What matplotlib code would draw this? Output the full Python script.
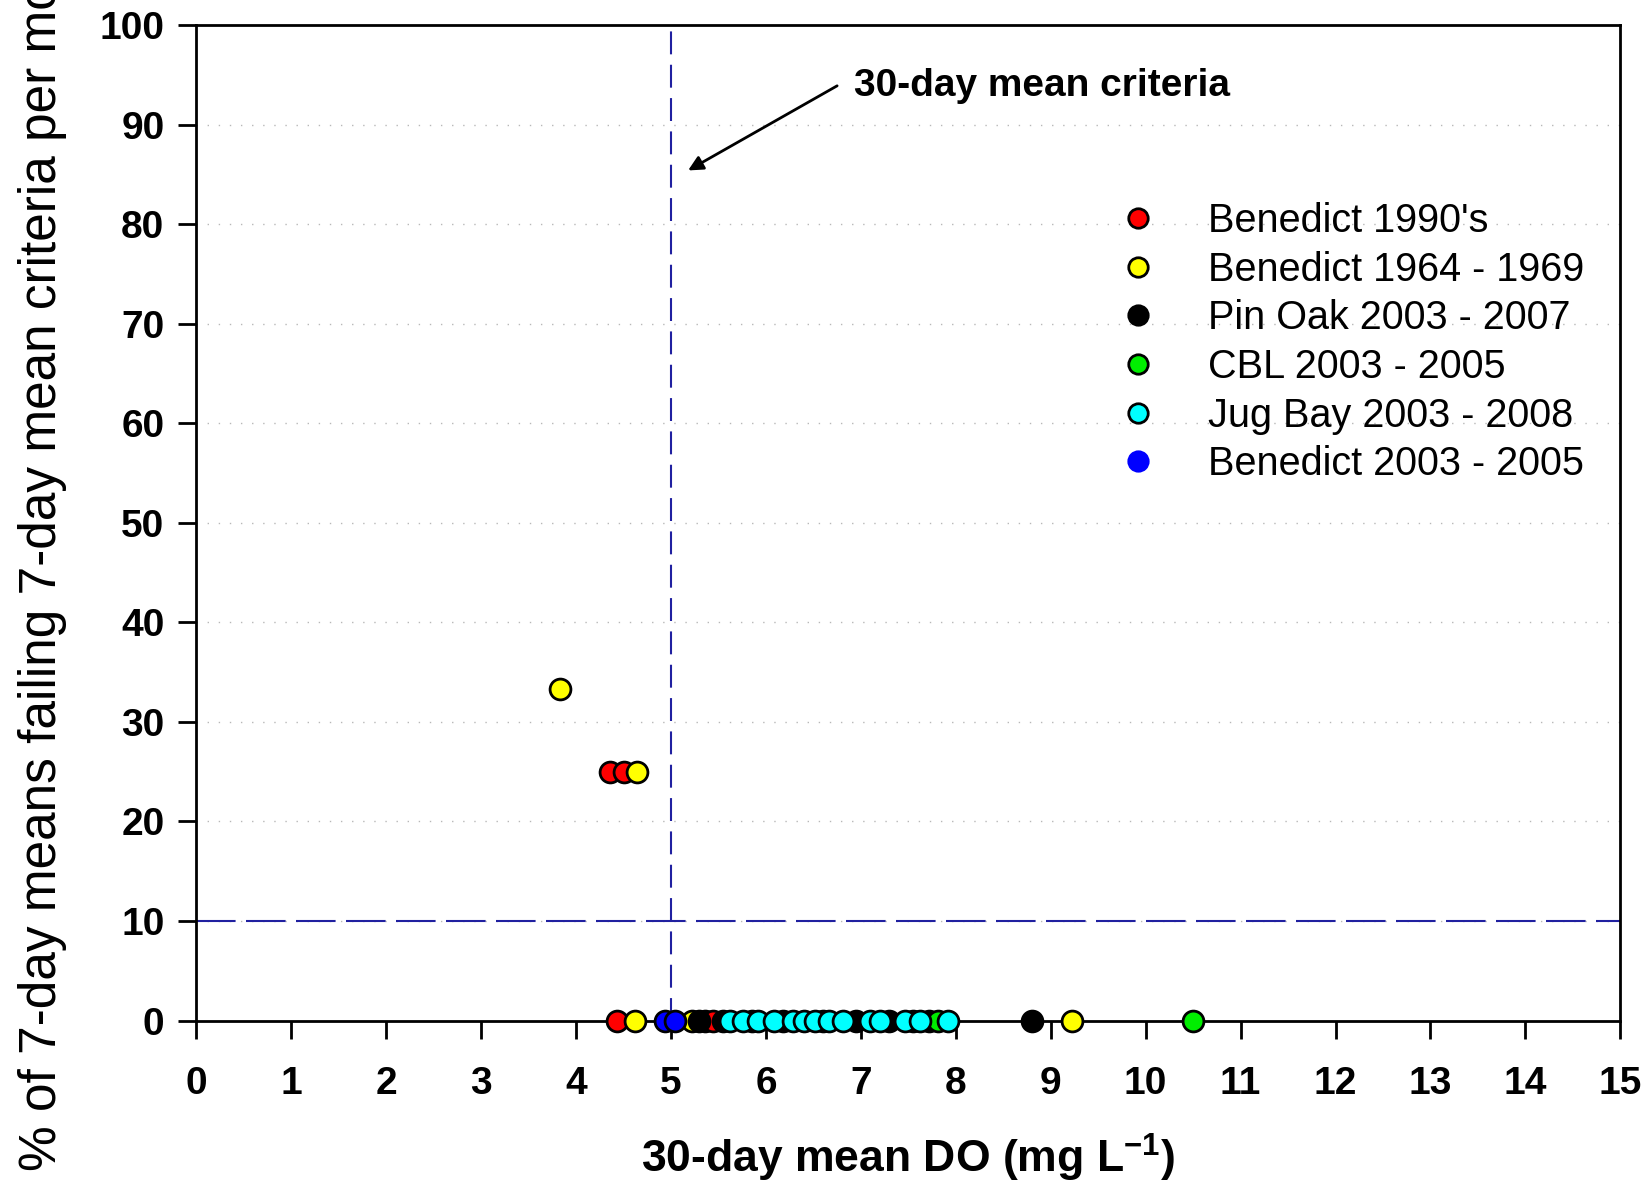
import matplotlib
matplotlib.use("Agg")
import matplotlib.pyplot as plt
from matplotlib.lines import Line2D

plt.rcParams['font.family'] = ['Liberation Sans', 'DejaVu Sans']
plt.rcParams['mathtext.fontset'] = 'custom'
plt.rcParams['mathtext.rm'] = 'Liberation Sans:bold'
plt.rcParams['mathtext.default'] = 'regular'

# 30-day mean DO (mg/L) vs % of 7-day means failing, per station series
names = ["Benedict 1990's", "Benedict 1964 - 1969", "Pin Oak 2003 - 2007",
         "CBL 2003 - 2005", "Jug Bay 2003 - 2008", "Benedict 2003 - 2005"]
colors = ["#ff0000", "#ffff00", "#000000", "#00ee00", "#00ffff", "#0000ff"]

ben90_x = [4.36, 4.50, 4.43, 5.36, 5.44]
ben90_y = [25, 25, 0, 0, 0]
ben64_x = [3.83, 4.64, 4.62, 5.22, 9.22]
ben64_y = [33.3, 25, 0, 0, 0]
pinoak_x = [5.30, 5.55, 5.85, 6.18, 6.60, 6.95, 7.30, 7.55, 7.72, 8.80]
pinoak_y = [0, 0, 0, 0, 0, 0, 0, 0, 0, 0]
cbl_x = [7.81, 10.50]
cbl_y = [0, 0]
jugbay_x = [5.62, 5.76, 5.92, 6.08, 6.28, 6.40, 6.52, 6.66, 6.81, 7.10,
            7.20, 7.46, 7.62, 7.92]
jugbay_y = [0] * len(jugbay_x)
ben03_x = [4.94, 5.04]
ben03_y = [0, 0]

series = [(ben90_x, ben90_y), (ben64_x, ben64_y), (pinoak_x, pinoak_y),
          (cbl_x, cbl_y), (jugbay_x, jugbay_y), (ben03_x, ben03_y)]

fig = plt.figure(figsize=(16.5, 11.95), dpi=100)
ax = fig.add_axes([0.119, 0.146, 0.863, 0.833])

for (xs, ys), c in zip(series, colors):
    ax.plot(xs, ys, ls="none", marker="o", ms=15, mfc=c, mec="black", mew=2,
            clip_on=False, zorder=5)

ax.set_xlim(0, 15)
ax.set_ylim(0, 100)
ax.set_xticks(range(0, 16))
ax.set_yticks(range(0, 101, 10))

# dotted horizontal grid
for yv in range(10, 100, 10):
    ax.axhline(yv, color="#b8b8b8", lw=1, ls=(0, (1, 7)), zorder=0)

# criteria lines
ax.axvline(5, color="#2020a0", lw=1.5, ls=(0, (11, 5)), zorder=1)
ax.axhline(10, color="#2020a0", lw=1.5, ls=(0, (19, 5)), zorder=1)

for s in ax.spines.values():
    s.set_linewidth(2)
ax.tick_params(direction="out", length=13, width=2, labelsize=28)
ax.tick_params(axis="x", pad=20)
ax.tick_params(axis="y", pad=10)
for lab in ax.get_xticklabels() + ax.get_yticklabels():
    lab.set_fontweight("bold")

ax.set_xlabel("30-day mean DO (mg L$^{-1}$)", fontsize=32, fontweight="bold")
ax.xaxis.set_label_coords(0.5, -0.112)

fig.text(0.026, 0.02, "% of 7-day means failing 7-day mean criteria per month",
         rotation=90, ha="center", va="bottom", fontsize=37)

ax.annotate("", xy=(5.18, 85.4), xytext=(6.75, 93.9),
            arrowprops=dict(arrowstyle="-|>", color="black", lw=2,
                            mutation_scale=22, shrinkA=0, shrinkB=0))
ax.text(6.93, 93.9, "30-day mean criteria", fontsize=28, fontweight="bold",
        va="center", ha="left")

handles = [Line2D([], [], ls="none", marker="o", ms=14, mfc=c,
                  mec=(c if n.startswith("Benedict 2003") else "black"), mew=2)
           for c, n in zip(colors, names)]
ax.legend(handles, names, loc="upper left", bbox_to_anchor=(0.666, 1 - 186 / 1195),
          bbox_transform=fig.transFigure, frameon=False, fontsize=28.5,
          handletextpad=1.15, labelspacing=0.27, borderaxespad=0, handlelength=1.2)

fig.savefig("out.png", dpi=100)
